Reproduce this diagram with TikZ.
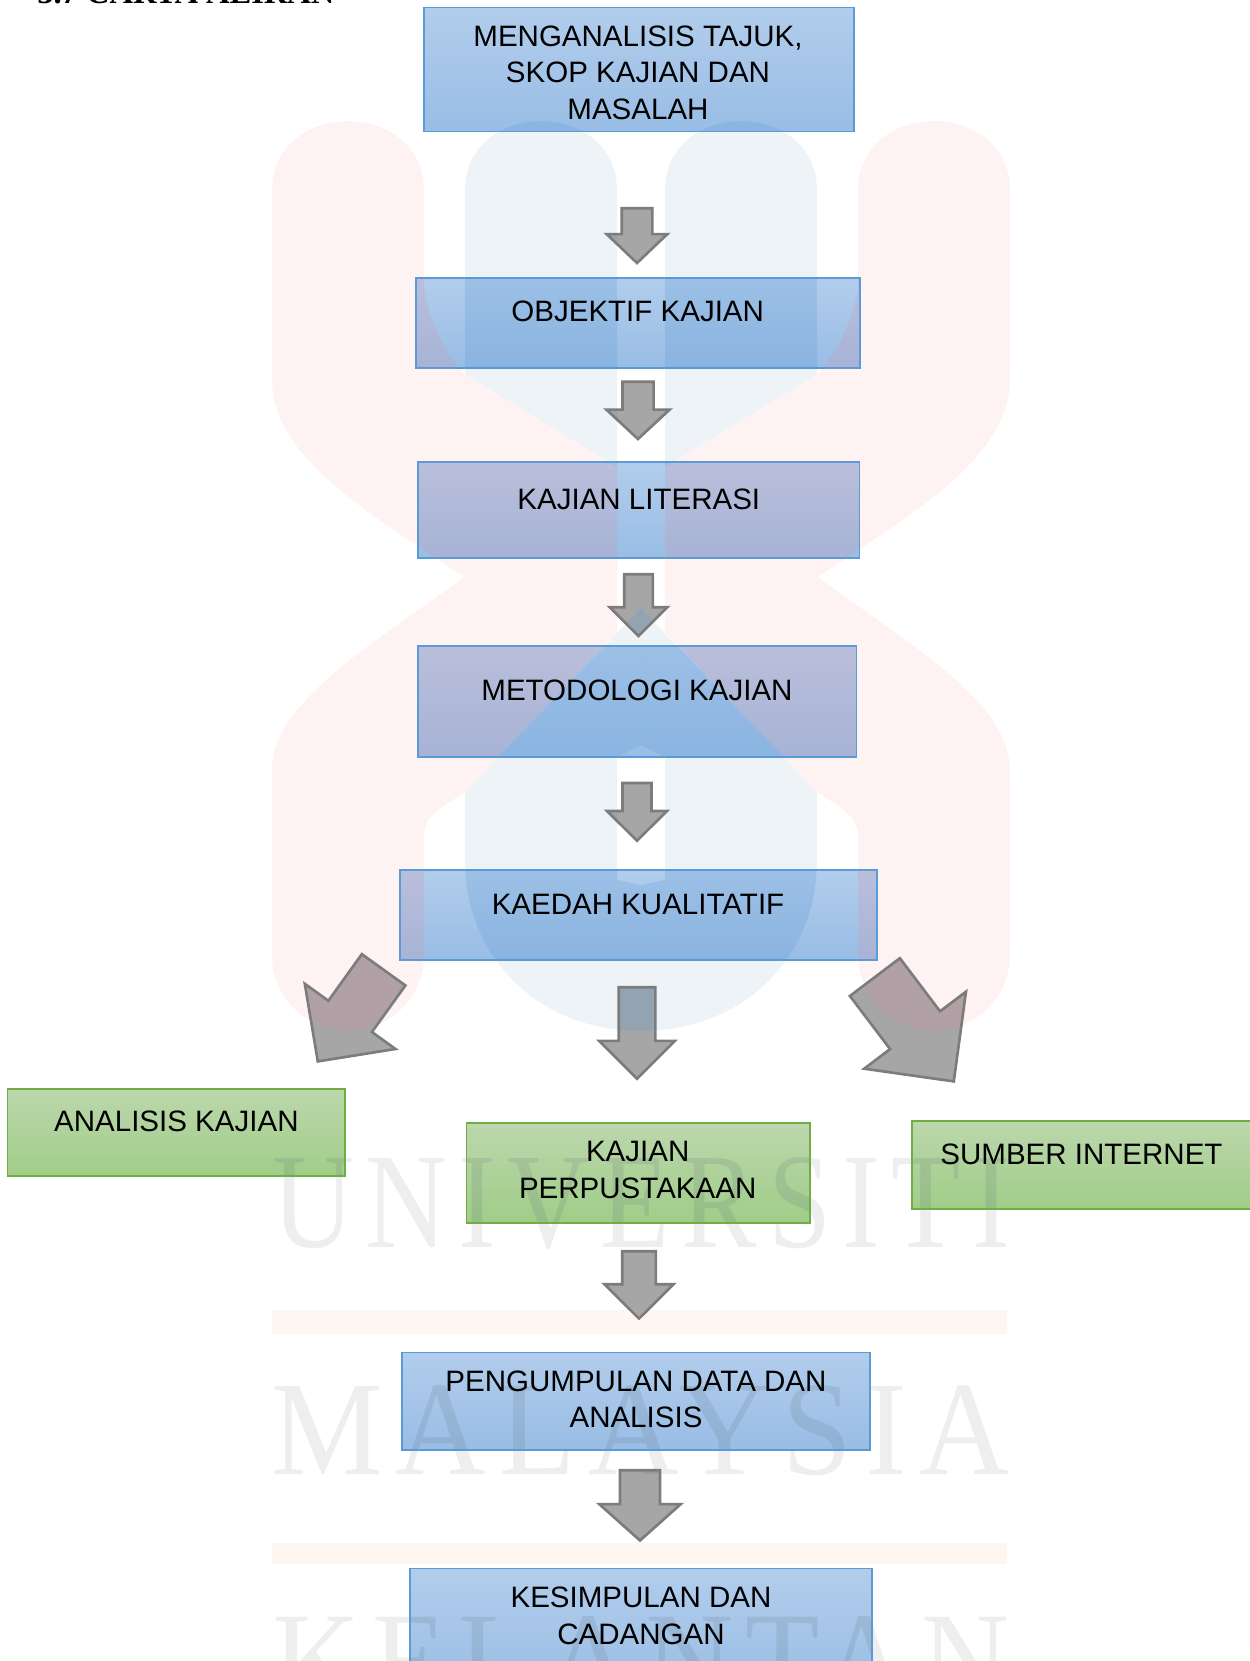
\documentclass[tikz,border=0pt]{standalone}
\usepackage{fontspec}
\usepackage{graphicx}
\setmainfont{Liberation Sans}
\newfontfamily\headfont{Liberation Serif}
\newfontfamily\markfont[LetterSpace=10]{Liberation Serif}
\usetikzlibrary{shapes.arrows}

\definecolor{bluetop}{RGB}{178,205,236}
\definecolor{bluebot}{RGB}{153,189,229}
\definecolor{blueline}{RGB}{91,155,213}
\definecolor{greentop}{RGB}{188,215,172}
\definecolor{greenbot}{RGB}{160,205,136}
\definecolor{greenline}{RGB}{112,173,71}
\definecolor{arrowfill}{RGB}{166,166,166}
\definecolor{arrowline}{RGB}{124,124,124}

\tikzset{
  markred/.style={fill={rgb,255:red,254;green,243;blue,242}},
  markblue/.style={fill={rgb,255:red,238;green,243;blue,248}},
  markorange/.style={fill={rgb,255:red,254;green,247;blue,241}},
  marktext/.style={rectangle, draw=none, anchor=center, inner sep=0pt, outer sep=0pt, minimum width=0pt, minimum height=0pt, text={rgb,255:red,238;green,238;blue,238}},
  bluebox/.style={rectangle, anchor=north west, draw=blueline, line width=1.1pt, path picture={\boxshade{bluetop}{bluebot}\overmark}},
  greenbox/.style={rectangle, anchor=north west, draw=greenline, line width=1.1pt, path picture={\boxshade{greentop}{greenbot}\overmark}},
  boxsize/.style 2 args={minimum width=#1*0.02cm, minimum height=#2*0.02cm, inner sep=0pt, outer sep=0pt},
  boxtext/.style={align=center, inner sep=0pt, text=black, font=\fontsize{16.8}{20.7}\selectfont},
  blockarrow/.style n args={4}{single arrow, anchor=tip, draw=arrowline, fill=arrowfill, line width=1.5pt, inner xsep=0pt, inner ysep={(#3-4)/2*0.02cm}, outer sep=0pt,
    minimum height=(#1-3.2)*0.02cm, single arrow head extend={(#2-#3-1)/2*0.02cm},
    single arrow tip angle={2*atan(#2/2/#4)}, path picture=\overmark}
}

\newcommand{\mk}[1]{641+\sgn*#1}
\newcommand{\umkhalf}[1]{
  \def\sgn{#1}
  \fill[markblue] (\mk{-176},190) .. controls (\mk{-176},145) and (\mk{-138},121) .. (\mk{-100},121) .. controls (\mk{-62},121) and (\mk{-24},145) .. (\mk{-24},190) -- (\mk{-24},467) -- (\mk{-176},375) -- cycle;
  \fill[markblue] (\mk{0},608) -- (\mk{-176},792) -- (\mk{-176},860) .. controls (\mk{-176},960) and (\mk{-100},1031) .. (\mk{0},1031) -- (\mk{0},885) -- (\mk{-24},880) -- (\mk{-24},757) -- (\mk{0},745) -- cycle;
  \fill[markred] (\mk{-369},190) .. controls (\mk{-369},145) and (\mk{-331},121) .. (\mk{-293},121) .. controls (\mk{-255},121) and (\mk{-217},145) .. (\mk{-217},190) -- (\mk{-217},290) .. controls (\mk{-210},325) and (\mk{-195},355) .. (\mk{-176},375) -- (\mk{-24},467) -- (\mk{-24},632) -- (\mk{-176},792) .. controls (\mk{-195},805) and (\mk{-217},815) .. (\mk{-217},835) -- (\mk{-217},955) .. controls (\mk{-217},1000) and (\mk{-255},1031) .. (\mk{-293},1031) .. controls (\mk{-331},1031) and (\mk{-369},1000) .. (\mk{-369},955) -- (\mk{-369},770) .. controls (\mk{-369},700) and (\mk{-261},640) .. (\mk{-177},577) .. controls (\mk{-261},520) and (\mk{-369},460) .. (\mk{-369},380) -- cycle;
}
\newcommand{\umkmark}{
  \umkhalf{1}
  \umkhalf{-1}
  \fill[markorange] (272,1309.5) rectangle (1007,1334);
  \fill[markorange] (272,1542.5) rectangle (1007,1563.5);
  \node[marktext] (markUniversiti) at (641,1204) {\markfont\resizebox{14.76cm}{1.8cm}{UNIVERSITI}};
  \node[marktext] (markMalaysia) at (641,1431) {\markfont\resizebox{14.76cm}{1.78cm}{MALAYSIA}};
  \node[marktext] (markKelantan) at (641,1661) {\markfont\resizebox{14.76cm}{1.8cm}{KELANTAN}};
}
\newcommand{\boxshade}[2]{
  \shade[top color=#1, bottom color=#2] (path picture bounding box.north west) rectangle (path picture bounding box.south east);
}
\newcommand{\overmark}{
  \pgftransformreset
  \tikzset{
    markred/.style={fill={rgb,255:red,210;green,150;blue,170}, fill opacity=.25},
    markblue/.style={fill={rgb,255:red,95;green,155;blue,215}, fill opacity=.25},
    markorange/.style={fill={rgb,255:red,230;green,180;blue,140}, fill opacity=.12},
    marktext/.append style={text={rgb,255:red,90;green,110;blue,120}, text opacity=.16}
  }
  \umkmark
}

\begin{document}
\begin{tikzpicture}[x=0.02cm, y=-0.02cm]
\useasboundingbox (0,0) rectangle (1250,1661);
\clip (0,0) rectangle (1250,1661);
\umkmark
\node[anchor=base west, inner sep=0pt, font=\headfont\bfseries\fontsize{18.5}{20}\selectfont] (judul) at (37,3.5) {3.7 CARTA ALIRAN};

\node[bluebox, boxsize={430}{124}] (tajuk) at (424,7.5) {};
\node[boxtext] (tajukText) at (638,72.5) {MENGANALISIS TAJUK,\\SKOP KAJIAN DAN\\MASALAH};
\node[bluebox, boxsize={444.5}{90}] (objektif) at (415.7,277.6) {};
\node[boxtext] (objektifText) at (637.7,311) {OBJEKTIF KAJIAN};
\node[bluebox, boxsize={441.5}{96}] (literasi) at (418,462) {};
\node[boxtext] (literasiText) at (638.8,499) {KAJIAN LITERASI};
\node[bluebox, boxsize={438.5}{111.5}] (metodologi) at (418,645.6) {};
\node[boxtext] (metodologiText) at (637,690) {METODOLOGI KAJIAN};
\node[bluebox, boxsize={477.2}{90}] (kaedah) at (399.8,869.8) {};
\node[boxtext] (kaedahText) at (638,904) {KAEDAH KUALITATIF};
\node[greenbox, boxsize={337.5}{87}] (analisis) at (7.5,1089) {};
\node[boxtext] (analisisText) at (176.4,1121) {ANALISIS KAJIAN};
\node[greenbox, boxsize={343.5}{100.3}] (perpustakaan) at (466.5,1122.7) {};
\node[boxtext] (perpustakaanText) at (637.7,1170) {KAJIAN\\PERPUSTAKAAN};
\node[greenbox, boxsize={345}{88}] (internet) at (912,1121) {};
\node[boxtext] (internetText) at (1081.5,1154) {SUMBER INTERNET};
\node[bluebox, boxsize={468}{97.2}] (pengumpulan) at (402,1352.5) {};
\node[boxtext] (pengumpulanText) at (636,1399.5) {PENGUMPULAN DATA DAN\\ANALISIS};
\node[bluebox, boxsize={462}{125}] (kesimpulan) at (410,1568.5) {};
\node[boxtext] (kesimpulanText) at (641,1616) {KESIMPULAN DAN\\CADANGAN};

\node[blockarrow={58}{63}{32}{30}, rotate=-90] (arrowTajuk) at (637,263) {};
\node[blockarrow={60.5}{65.7}{32.5}{30.5}, rotate=-90] (arrowObjektif) at (638,439) {};
\node[blockarrow={65}{60}{30}{30}, rotate=-90] (arrowLiterasi) at (638.5,636) {};
\node[blockarrow={61}{62.3}{30.4}{31}, rotate=-90] (arrowMetodologi) at (637,840.8) {};
\node[blockarrow={94.7}{78}{38}{39}, rotate=-90] (arrowKaedah) at (637,1078.7) {};
\node[blockarrow={116}{114}{55}{56.6}, rotate=234.3] (arrowAnalisis) at (317.8,1061.4) {};
\node[blockarrow={134}{130}{64}{65.4}, rotate=-52.9] (arrowInternet) at (953.8,1081.4) {};
\node[blockarrow={70.6}{71.4}{35}{35.6}, rotate=-90] (arrowPerpustakaan) at (639,1318.6) {};
\node[blockarrow={73.5}{84}{41.4}{37.5}, rotate=-90] (arrowPengumpulan) at (640,1540.5) {};
\end{tikzpicture}
\end{document}
